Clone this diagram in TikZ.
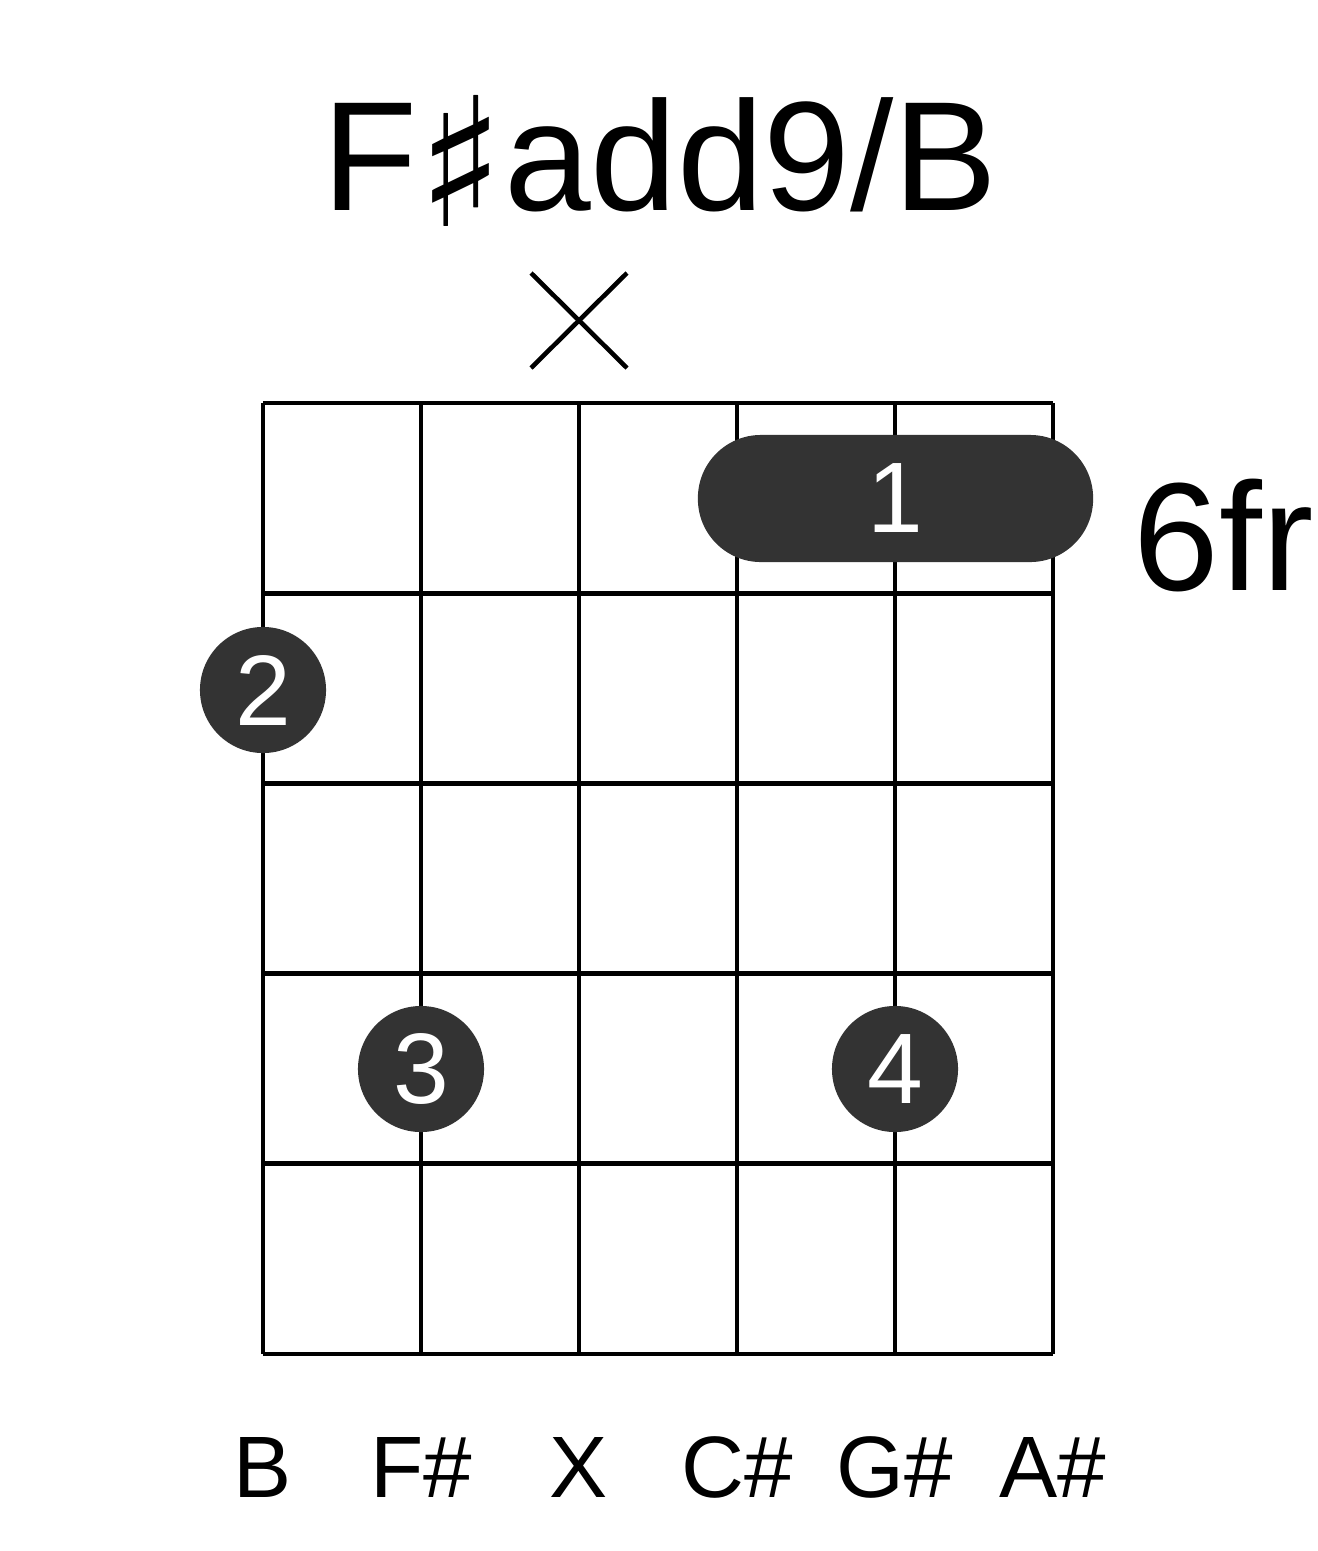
\documentclass[tikz,border=0pt]{standalone}
\usepackage{fontspec}
\setmainfont{Liberation Sans}
\newfontfamily\symfont{DejaVu Sans}
\usetikzlibrary{positioning, calc}
\definecolor{dotfill}{HTML}{333333}

\begin{document}
\begin{tikzpicture}[
    x=0.01cm, y=-0.01cm,
    every node/.style={inner sep=0pt},
    grid/.style={black, line width=1.4pt},
    mute/.style={black, line width=1.3pt},
    dot/.style={circle, fill=dotfill, minimum size=1.26cm, text=white,
        font=\fontsize{28.5}{28.5}\selectfont},
    barre/.style={rectangle, rounded corners=0.63cm, fill=dotfill,
        minimum width=3.95cm, minimum height=1.27cm, text=white,
        font=\fontsize{28.5}{28.5}\selectfont},
    title/.style={font=\fontsize{44.3}{44.3}\selectfont, anchor=base},
    note/.style={font=\fontsize{24.8}{24.8}\selectfont, anchor=base},
    fret/.style={font=\fontsize{43.8}{43.8}\selectfont, anchor=base west},
]
\useasboundingbox (0,0) rectangle (1317,1551);

\def\S#1{263 + #1*158}
\def\F#1{403 + #1*190.2}

% ---------------------------------------------------------------- title
\node[title] (name) at (660, 210)
    {F{\symfont\fontsize{51}{51}\selectfont\raisebox{-4.6pt}{\char"266F}}add9/B};

% ---------------------------------------------------------------- muted string
\coordinate (mute) at ({\S{2}}, 320.5);
\draw[mute] ($(mute)+(-48,-47.5)$) -- ($(mute)+(48,47.5)$);
\draw[mute] ($(mute)+(-48,47.5)$) -- ($(mute)+(48,-47.5)$);

% ---------------------------------------------------------------- the grid
\foreach \s in {0,...,5}{
    \draw[grid] ({\S{\s}}, {\F{0}}) -- ({\S{\s}}, {\F{5}});
}
\foreach \f in {0,...,5}{
    \draw[grid] ({\S{0}}, {\F{\f}}) -- ({\S{5}}, {\F{\f}});
}

% ---------------------------------------------------------------- fingers
\node[barre] (one) at (895.5, 498.5) {1};
\node[dot] (two) at ({\S{0}}, 690) {2};
\node[dot] (three) at ({\S{1}}, 1069) {3};
\node[dot] (four) at ({\S{4}}, 1069) {4};

\node[fret] (pos) at (1133, 590) {6fr};

% ---------------------------------------------------------------- notes
\foreach \s/\n in {0/B, 1/F\#, 2/X, 3/C\#, 4/G\#, 5/A\#}{
    \node[note] (note\s) at ({\S{\s}}, 1497) {\n};
}

\end{tikzpicture}
\end{document}
